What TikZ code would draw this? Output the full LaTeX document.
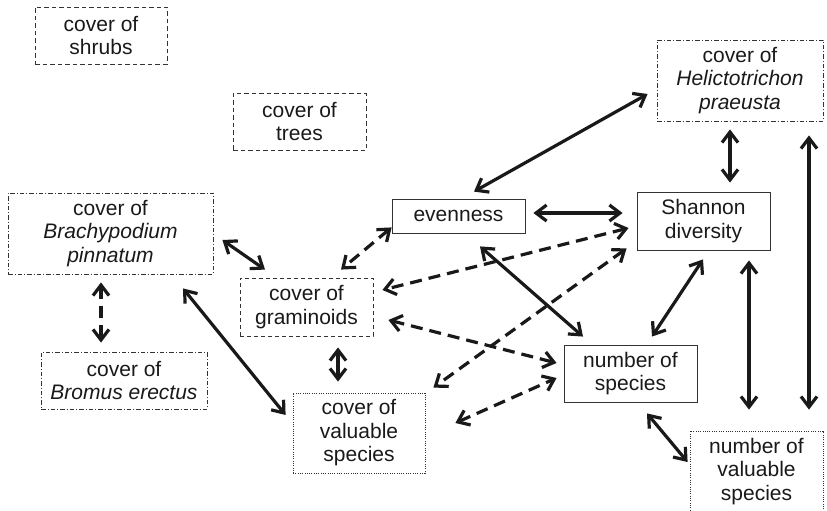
\documentclass[tikz,border=0pt]{standalone}
\usepackage{fontspec}
\setmainfont{Liberation Sans}
\usetikzlibrary{arrows.meta,calc}
\tikzset{
  box/.style={draw=black!80, line width=0.85pt, inner sep=0pt, align=center, font=\fontsize{21}{23.5}\selectfont, text=black!90},
  solidbox/.style={box},
  dashbox/.style={box, dash pattern=on 4.5pt off 3pt},
  dashdotbox/.style={box, dash pattern=on 4.5pt off 2pt on 1pt off 2pt},
  dotbox/.style={box, line width=0.8pt, dash pattern=on 1pt off 1.3pt},
  link/.style={line width=3.2pt, black!90, {Straight Barb[length=10.5pt,width=16pt]}-{Straight Barb[length=10.5pt,width=16pt]}},
  dlink/.style={link, dash pattern=on 12pt off 7pt},
}
\begin{document}
\begin{tikzpicture}[x=1pt,y=-1pt]
\useasboundingbox (0,0) rectangle (827,511);
% nodes
\node[dashbox, minimum width=132pt, minimum height=57pt] (shrubs) at (101,35.5) {cover of\\shrubs};
\node[dashbox, minimum width=133pt, minimum height=57pt] (trees) at (299.5,121.5) {cover of\\trees};
\node[dashdotbox, minimum width=205pt, minimum height=81pt] (brachy) at (110.5,233.5) {cover of\\\textit{Brachypodium}\\\textit{pinnatum}};
\node[dashdotbox, minimum width=166pt, minimum height=57pt] (bromus) at (124,380.5) {cover of\\\textit{Bromus erectus}};
\node[dashbox, dash pattern=on 4pt off 3pt, minimum width=133pt, minimum height=58pt] (gram) at (306.5,307) {cover of\\graminoids};
\node[dotbox, minimum width=132pt, minimum height=80pt] (covval) at (359,433) {cover of\\valuable\\species};
\node[solidbox, minimum width=133pt, minimum height=34pt] (even) at (458.5,216) {evenness};
\node[solidbox, minimum width=133pt, minimum height=58pt] (shannon) at (703.5,221) {Shannon\\diversity};
\node[dashdotbox, minimum width=166pt, minimum height=81pt] (helicto) at (740,80.5) {cover of\\\textit{Helictotrichon}\\\textit{praeusta}};
\node[solidbox, minimum width=133pt, minimum height=57pt] (nspec) at (630.5,373.5) {number of\\species};
\node[dotbox, minimum width=133pt, minimum height=81pt] (nval) at (756.5,471.5) {number of\\valuable\\species};
% solid links
\draw[link] ($(helicto.west)+(-9,13.5)$) -- ($(even.north)+(15.5,-7)$);
\draw[link] ($(helicto.south)+(-10,8)$) -- ($(shannon.north)+(26.5,-9)$);
\draw[link] ($(helicto.south)+(69,14)$) -- ($(nval.north)+(52.5,-21)$);
\draw[link] ($(even.east)+(8,-3)$) -- ($(shannon.west)+(-14,-8)$);
\draw[link] ($(shannon.south)+(45.5,10)$) -- ($(nval.north)+(-7.5,-21)$);
\draw[link] ($(shannon.south)+(-0.5,9)$) -- ($(nspec.north)+(21.5,-8)$);
\draw[link] ($(even.south)+(21.5,13)$) -- ($(nspec.north)+(-47.5,-8)$);
\draw[link] ($(nspec.south)+(16.5,11)$) -- ($(nval.west)+(-2,-9.5)$);
\draw[link] ($(brachy.east)+(9,6.5)$) -- ($(gram.north)+(-41.5,-8)$);
\draw[link] ($(brachy.south)+(72.5,14)$) -- ($(covval.west)+(-7,-18)$);
\draw[link] ($(gram.south)+(31.5,11)$) -- ($(covval.north)+(-21,-11)$);
% dashed links
\draw[dlink] ($(brachy.south)+(-9.5,8)$) -- ($(bromus.north)+(-23,-9)$);
\draw[dlink] ($(even.south west)+(0,-6)$) -- ($(gram.north)+(34.5,-8)$);
\draw[dlink] ($(shannon.west)+(-8,7)$) -- ($(gram.east)+(9,-17)$);
\draw[dlink] ($(shannon.south west)+(-10,-2)$) -- ($(covval.north east)+(8,-5)$);
\draw[dlink] ($(gram.east)+(15,13)$) -- ($(nspec.west)+(-7,-10.5)$);
\draw[dlink] ($(covval.east)+(30,-10)$) -- ($(nspec.west)+(-7,4.5)$);
\end{tikzpicture}
\end{document}
